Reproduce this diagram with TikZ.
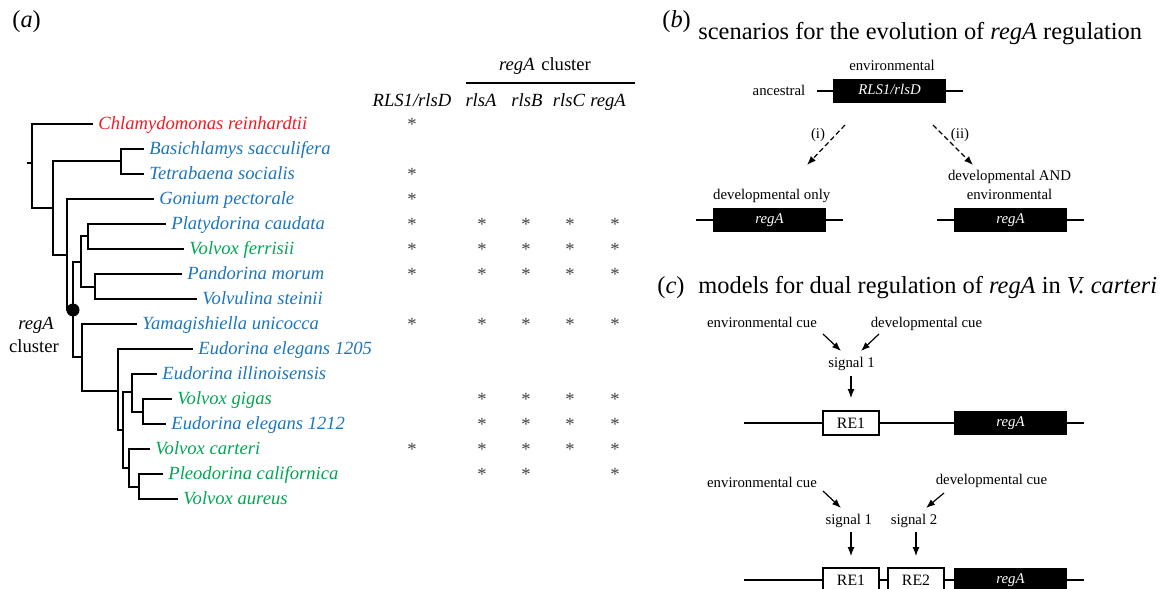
\documentclass[tikz,border=0pt]{standalone}
\usepackage{fontspec}
\setmainfont{Liberation Serif}
\usetikzlibrary{arrows.meta}
\definecolor{cred}{RGB}{237,28,36}
\definecolor{cblue}{RGB}{28,117,188}
\definecolor{cgreen}{RGB}{0,166,81}
\begin{document}
\begin{tikzpicture}[x=0.5pt, y=-0.5pt,
  tree/.style={line width=1pt},
  taxon/.style={anchor=west, inner xsep=2.5pt, inner ysep=0pt, text height=6.5pt, text depth=1.5pt, font=\fontsize{9.3}{11}\selectfont\itshape},
  hdr/.style={anchor=base, inner sep=0pt, font=\fontsize{9.3}{11}\selectfont\itshape},
  star/.style={anchor=base, inner sep=0pt, text=black!75, font=\fontsize{9.3}{11}\selectfont},
  panel/.style={anchor=base west, inner sep=0pt, font=\fontsize{12.2}{14}\selectfont},
  small/.style={anchor=base, inner sep=0pt, font=\fontsize{7.4}{9}\selectfont},
  gene/.style={fill=black, text=white, minimum width=56.5pt, minimum height=12pt, inner sep=0pt, text height=5.3pt, text depth=1.5pt, font=\fontsize{7.4}{9}\selectfont\itshape},
  rebox/.style={draw, fill=white, line width=0.8pt, minimum width=28pt, minimum height=12pt, inner sep=0pt, font=\fontsize{7.9}{9}\selectfont},
  dna/.style={line width=1pt},
  cue/.style={line width=0.6pt, -{Latex[length=4.5pt,width=3.4pt]}},
  evo/.style={cue, dash pattern=on 2.5pt off 1.5pt},
  branchpt/.style={circle, fill=black, inner sep=0pt, minimum size=6.5pt}]
  \useasboundingbox (0,0) rectangle (1169,589);

  % (a) tree
  \node[panel] (pa) at (12,27) {(\textit{a})};
  \foreach \nm/\x/\i/\col/\txt in {chl/93/0/cred/Chlamydomonas reinhardtii,
      bas/144/1/cblue/Basichlamys sacculifera, tet/144/2/cblue/Tetrabaena socialis,
      gon/154/3/cblue/Gonium pectorale, pla/166/4/cblue/Platydorina caudata,
      vfe/184/5/cgreen/Volvox ferrisii, pan/182/6/cblue/Pandorina morum,
      vst/197/7/cblue/Volvulina steinii, yam/137/8/cblue/Yamagishiella unicocca,
      ee5/193/9/cblue/Eudorina elegans 1205, eil/157/10/cblue/Eudorina illinoisensis,
      vgi/172/11/cgreen/Volvox gigas, ee2/166/12/cblue/Eudorina elegans 1212,
      vca/150/13/cgreen/Volvox carteri, pca/163/14/cgreen/Pleodorina californica,
      vau/178/15/cgreen/Volvox aureus}
    \node[taxon, text=\col] (\nm) at (\x,{124+25*\i}) {\txt};

  \coordinate (r) at (32,163);
  \coordinate (nA) at (53,208);
  \coordinate (nB) at (121,161);
  \coordinate (nC) at (67,255);
  \coordinate (nD) at (73,310);
  \coordinate (nE) at (81,262);
  \coordinate (nF) at (88,236);
  \coordinate (nG) at (95,287);
  \coordinate (nH) at (82,357);
  \coordinate (nI) at (118,391);
  \coordinate (nJ) at (123,430);
  \coordinate (nK) at (132,392);
  \coordinate (nL) at (143,412);
  \coordinate (nM) at (129,468);
  \coordinate (nN) at (139,487);

  \draw[tree] (r) -- ++(-5,0);
  \foreach \p/\c in {r/chl, r/nA, nA/nB, nA/nC, nB/bas, nB/tet, nC/gon, nC/nD,
      nD/nE, nD/nH, nE/nF, nE/nG, nF/pla, nF/vfe, nG/pan, nG/vst, nH/yam, nH/nI,
      nI/ee5, nI/nJ, nJ/nK, nJ/nM, nK/eil, nK/nL, nL/vgi, nL/ee2, nM/vca, nM/nN,
      nN/pca, nN/vau}
    \draw[tree] (\p) |- (\c);
  \node[branchpt] (dot) at (nD) {};
  \node[hdr] (cl1) at (36,329) {regA};
  \node[hdr, font=\fontsize{9.3}{11}\selectfont] (cl2) at (34,352) {cluster};

  % table of genes
  \node[hdr, font=\fontsize{9.3}{11}\selectfont] (hcl) at (545,70) {\textit{regA}\hspace{3.3pt}cluster};
  \draw[line width=0.8pt] (466,83) -- (635,83);
  \node[hdr] (hrl) at (412,106) {RLS1/rlsD};
  \node[hdr] (hra) at (481,106) {rlsA};
  \node[hdr] (hrb) at (527,106) {rlsB};
  \node[hdr] (hrc) at (569,106) {rlsC};
  \node[hdr] (hrg) at (608,106) {regA};
  \foreach \i/\xs in {0/{412}, 2/{412}, 3/{412}, 4/{412,482,526,570,615},
      5/{412,482,526,570,615}, 6/{412,482,526,570,615}, 8/{412,482,526,570,615},
      11/{482,526,570,615}, 12/{482,526,570,615}, 13/{412,482,526,570,615},
      14/{482,526,615}}
    \foreach \x in \xs
      \node[star] (s-\i-\x) at (\x,{130+25*\i}) {*};

  % (b) scenarios
  \node[panel] (pb) at (662,27) {(\textit{b})};
  \node[panel] (tb) at (698,39.5) {scenarios for the evolution of \textit{regA} regulation};
  \node[gene] (anc) at (889.5,91) {RLS1/rlsD};
  \draw[dna] (anc.west) -- ++(-16,0) (anc.east) -- ++(17,0);
  \node[small] (envt) at (892,70.5) {environmental};
  \node[small] (ancl) at (779,95) {ancestral};
  \node[gene] (dev) at (769.5,219.5) {regA};
  \draw[dna] (dev.west) -- ++(-17,0) (dev.east) -- ++(17,0);
  \node[small] (devl) at (771.7,199) {developmental only};
  \node[gene] (both) at (1010.5,219.5) {regA};
  \draw[dna] (both.west) -- ++(-17,0) (both.east) -- ++(17,0);
  \node[small] (bothl1) at (1009.5,180) {developmental AND};
  \node[small] (bothl2) at (1009.5,199) {environmental};
  \coordinate (i-s) at (845,125);
  \coordinate (i-e) at (807,165);
  \coordinate (ii-s) at (933,125);
  \coordinate (ii-e) at (973,165);
  \draw[evo] (i-s) -- (i-e);
  \draw[evo] (ii-s) -- (ii-e);
  \node[small, anchor=center] (li) at (818,135) {(i)};
  \node[small, anchor=center] (lii) at (960,135) {(ii)};

  % (c) models
  \node[panel] (pc) at (657,293) {(\textit{c})};
  \node[panel] (tc) at (698,293) {models for dual regulation of \textit{regA} in \textit{V. carteri}};
  % model 1
  \node[small] (env1) at (762,327) {environmental cue};
  \node[small] (dev1) at (926.5,327) {developmental cue};
  \node[small] (sig1) at (851.5,367) {signal 1};
  \coordinate (e1s) at (823,334);
  \coordinate (e1e) at (841,351);
  \coordinate (d1s) at (879,334);
  \coordinate (d1e) at (861,351);
  \draw[cue] (e1s) -- (e1e);
  \draw[cue] (d1s) -- (d1e);
  \coordinate (m1l) at (744,423);
  \coordinate (m1r) at (1084,423);
  \node[rebox] (re1a) at (851,423) {RE1};
  \node[gene] (rga) at (1010.5,423) {regA};
  \draw[dna] (m1l) -- (re1a.west) (re1a.east) -- (rga.west) (rga.east) -- (m1r);
  \draw[cue, shorten <=2.5pt, shorten >=6pt] (re1a.north |- sig1.south) -- (re1a.north);
  % model 2
  \node[small] (env2) at (762,487) {environmental cue};
  \node[small] (dev2) at (991.5,484) {developmental cue};
  \node[small] (sig2a) at (848.8,524) {signal 1};
  \node[small] (sig2b) at (914,524) {signal 2};
  \coordinate (e2s) at (823,491);
  \coordinate (e2e) at (841,508);
  \coordinate (d2s) at (944,493);
  \coordinate (d2e) at (926,508);
  \draw[cue] (e2s) -- (e2e);
  \draw[cue] (d2s) -- (d2e);
  \coordinate (m2l) at (744,580);
  \coordinate (m2r) at (1084,580);
  \node[rebox] (re1b) at (851,580) {RE1};
  \node[rebox] (re2b) at (916,580) {RE2};
  \node[gene] (rgb) at (1010.5,580) {regA};
  \draw[dna] (m2l) -- (re1b.west) (re1b.east) -- (re2b.west) (re2b.east) -- (rgb.west) (rgb.east) -- (m2r);
  \draw[cue, shorten <=2pt, shorten >=5.5pt] (re1b.north |- sig2a.south) -- (re1b.north);
  \draw[cue, shorten <=2pt, shorten >=5.5pt] (re2b.north |- sig2b.south) -- (re2b.north);
\end{tikzpicture}
\end{document}
